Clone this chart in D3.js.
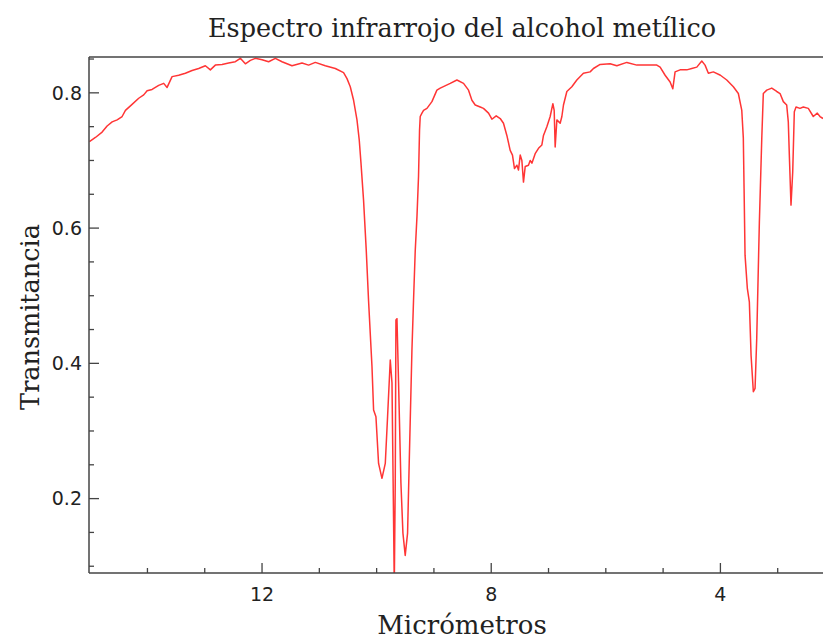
<!DOCTYPE html>
<html>
<head>
<meta charset="utf-8">
<script src="https://cdn.jsdelivr.net/npm/d3@7"></script>
<style>
html,body{margin:0;padding:0;background:#fff;}
svg{display:block;}
</style>
</head>
<body>
<svg id="chart" width="823" height="639"></svg>
<script>
// Wavelength (micrometres) of each sampled point
const micrometers = [15.012,14.908,14.791,14.704,14.616,14.529,14.442,14.384,14.268,14.152,14.065,14.006,13.919,13.804,13.716,13.657,13.570,13.455,13.338,13.221,13.106,12.989,12.902,12.815,12.698,12.583,12.466,12.379,12.291,12.204,12.117,12.000,11.885,11.768,11.651,11.477,11.302,11.187,11.070,10.896,10.721,10.577,10.517,10.460,10.402,10.343,10.303,10.273,10.228,10.181,10.141,10.081,10.053,10.012,9.966,9.907,9.849,9.809,9.762,9.732,9.705,9.692,9.675,9.663,9.645,9.617,9.576,9.541,9.501,9.460,9.426,9.384,9.356,9.326,9.296,9.269,9.251,9.239,9.209,9.181,9.122,9.035,8.948,8.890,8.715,8.599,8.483,8.396,8.337,8.279,8.192,8.135,8.047,7.988,7.913,7.843,7.786,7.727,7.669,7.629,7.594,7.552,7.524,7.494,7.465,7.437,7.407,7.350,7.320,7.290,7.233,7.175,7.116,7.088,7.029,6.971,6.924,6.901,6.884,6.854,6.797,6.767,6.739,6.680,6.593,6.506,6.391,6.274,6.216,6.099,5.925,5.808,5.633,5.459,5.284,5.110,5.052,4.965,4.878,4.831,4.791,4.704,4.587,4.500,4.412,4.325,4.268,4.210,4.123,4.000,3.889,3.774,3.687,3.627,3.600,3.587,3.570,3.530,3.495,3.465,3.425,3.395,3.366,3.320,3.278,3.251,3.191,3.104,3.017,2.959,2.902,2.843,2.815,2.797,2.768,2.738,2.710,2.680,2.611,2.553,2.466,2.379,2.309,2.262,2.209];
// Transmittance at each point
const transmittance = [0.728,0.734,0.742,0.751,0.757,0.760,0.765,0.774,0.783,0.792,0.797,0.803,0.805,0.811,0.814,0.808,0.824,0.826,0.829,0.833,0.836,0.840,0.834,0.841,0.842,0.844,0.846,0.851,0.843,0.848,0.851,0.849,0.846,0.851,0.846,0.840,0.844,0.841,0.845,0.840,0.836,0.830,0.821,0.809,0.789,0.760,0.730,0.696,0.641,0.567,0.493,0.395,0.331,0.321,0.252,0.230,0.252,0.321,0.405,0.371,0.173,0.070,0.223,0.464,0.466,0.371,0.223,0.149,0.116,0.149,0.272,0.419,0.493,0.567,0.617,0.676,0.745,0.765,0.770,0.774,0.777,0.787,0.804,0.807,0.814,0.819,0.814,0.804,0.789,0.782,0.779,0.777,0.770,0.761,0.766,0.762,0.755,0.737,0.715,0.708,0.688,0.693,0.686,0.708,0.700,0.668,0.691,0.693,0.700,0.696,0.710,0.718,0.723,0.737,0.750,0.765,0.784,0.774,0.720,0.760,0.755,0.765,0.782,0.802,0.809,0.819,0.829,0.831,0.836,0.842,0.843,0.840,0.845,0.841,0.841,0.841,0.838,0.826,0.816,0.806,0.831,0.834,0.834,0.836,0.838,0.847,0.841,0.829,0.831,0.826,0.819,0.809,0.799,0.774,0.733,0.659,0.560,0.511,0.491,0.412,0.358,0.363,0.437,0.609,0.733,0.799,0.804,0.807,0.802,0.799,0.787,0.782,0.757,0.708,0.634,0.683,0.772,0.779,0.777,0.779,0.777,0.765,0.770,0.765,0.762];
const xMajorTicks = [12, 8, 4];
const xMinorTicks = [14, 13, 11, 10, 9, 7, 6, 5, 3];
const yMajorTicks = [0.2, 0.4, 0.6, 0.8];
const yMinorTicks = [0.1, 0.15, 0.25, 0.3, 0.35, 0.45, 0.5, 0.55, 0.65, 0.7, 0.75, 0.85];
const xDomain = [15.02, 2.0];
const yDomain = [0.09, 0.853];
const titleText = "Espectro infrarrojo del alcohol metílico";
const xLabel = "Micrómetros";
const yLabel = "Transmitancia";

const svg = d3.select("#chart");
const L = 89, R = 835, T = 57, B = 573;
const x = d3.scaleLinear().domain(xDomain).range([L, R]);
const y = d3.scaleLinear().domain(yDomain).range([B, T]);

svg.append("defs").append("clipPath").attr("id", "plotclip")
  .append("rect").attr("x", L).attr("y", T).attr("width", R - L).attr("height", B - T);

const data = micrometers.map((m, i) => ({m, t: transmittance[i]}));
svg.append("path")
  .datum(data)
  .attr("clip-path", "url(#plotclip)")
  .attr("fill", "none")
  .attr("stroke", "#ff3535")
  .attr("stroke-width", 1.5)
  .attr("stroke-linejoin", "round")
  .attr("d", d3.line().x(d => x(d.m)).y(d => y(d.t)));

const axisColor = "#444";
svg.append("line").attr("x1", L).attr("x2", L).attr("y1", T).attr("y2", B)
  .attr("stroke", axisColor).attr("stroke-width", 1.5);
svg.append("line").attr("x1", L).attr("x2", R).attr("y1", B).attr("y2", B)
  .attr("stroke", axisColor).attr("stroke-width", 1.5);
svg.append("line").attr("x1", L).attr("x2", R).attr("y1", T).attr("y2", T)
  .attr("stroke", axisColor).attr("stroke-width", 1.5);

svg.selectAll(".xmaj").data(xMajorTicks).enter().append("line")
  .attr("x1", d => x(d)).attr("x2", d => x(d)).attr("y1", B).attr("y2", B - 10)
  .attr("stroke", axisColor).attr("stroke-width", 1.3);
svg.selectAll(".xmin").data(xMinorTicks).enter().append("line")
  .attr("x1", d => x(d)).attr("x2", d => x(d)).attr("y1", B).attr("y2", B - 5)
  .attr("stroke", axisColor).attr("stroke-width", 1.3);
svg.selectAll(".xlab").data(xMajorTicks).enter().append("text")
  .attr("x", d => x(d)).attr("y", 601)
  .attr("text-anchor", "middle")
  .attr("font-family", "DejaVu Sans")
  .attr("font-size", 19)
  .attr("fill", "#222")
  .text(d => d3.format("d")(d));

svg.selectAll(".ymaj").data(yMajorTicks).enter().append("line")
  .attr("y1", d => y(d)).attr("y2", d => y(d)).attr("x1", L).attr("x2", L + 10)
  .attr("stroke", axisColor).attr("stroke-width", 1.3);
svg.selectAll(".ymin").data(yMinorTicks).enter().append("line")
  .attr("y1", d => y(d)).attr("y2", d => y(d)).attr("x1", L).attr("x2", L + 5)
  .attr("stroke", axisColor).attr("stroke-width", 1.3);
svg.selectAll(".ylab").data(yMajorTicks).enter().append("text")
  .attr("x", 82).attr("y", d => y(d))
  .attr("dy", "0.36em")
  .attr("text-anchor", "end")
  .attr("font-family", "DejaVu Sans")
  .attr("font-size", 19)
  .attr("fill", "#222")
  .text(d => d3.format(".1f")(d));

svg.append("text").attr("x", 462).attr("y", 37)
  .attr("text-anchor", "middle")
  .attr("font-family", "DejaVu Serif")
  .attr("font-size", 25.5)
  .attr("fill", "#222")
  .text(titleText);
svg.append("text").attr("x", 462).attr("y", 634)
  .attr("text-anchor", "middle")
  .attr("font-family", "DejaVu Serif")
  .attr("font-size", 26)
  .attr("fill", "#222")
  .text(xLabel);
svg.append("text")
  .attr("transform", "translate(39,317) rotate(-90)")
  .attr("text-anchor", "middle")
  .attr("font-family", "DejaVu Serif")
  .attr("font-size", 25.5)
  .attr("fill", "#222")
  .text(yLabel);
</script>
</body>
</html>
